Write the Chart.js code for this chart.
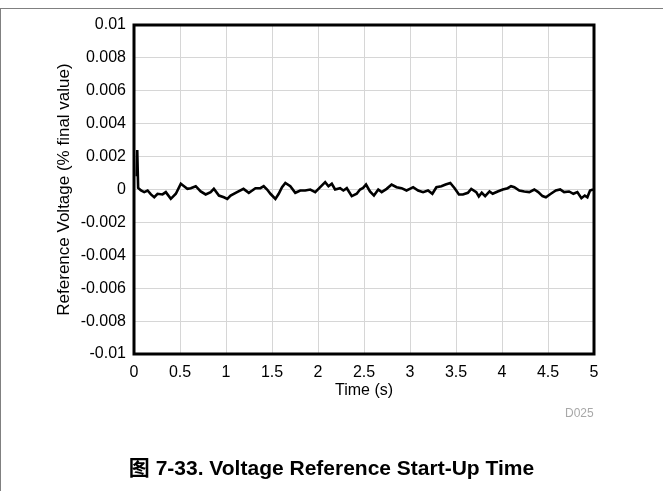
<!DOCTYPE html>
<html>
<head>
<meta charset="utf-8">
<script src="https://cdn.jsdelivr.net/npm/chart.js@4"></script>
<style>
    html, body { margin: 0; padding: 0; background: #fff; }
    #wrap { position: relative; width: 663px; height: 491px; overflow: hidden; }
    #frame { position: absolute; left: 0; top: 8px; width: 663px; height: 483px;
             border-top: 1px solid #808080; border-left: 1px solid #808080; box-sizing: border-box; }
    #chartBox { position: absolute; left: 0; top: 0; width: 663px; height: 491px; }
    #code { position: absolute; left: 565px; top: 406px; font: 12px "Liberation Sans", Arial, sans-serif; color: #a8a8a8; }
    #caption { position: absolute; left: 0; top: 451px; width: 663px; text-align: center;
               font: bold 21px "Liberation Sans", Arial, "Noto Sans CJK SC", sans-serif; color: #000; }
</style>
</head>
<body>
<div id="wrap">
    <div id="frame"></div>
    <div id="chartBox"><canvas id="graficoStartUp"></canvas></div>
    <div id="code">D025</div>
    <div id="caption">图 7-33. Voltage Reference Start-Up Time</div>
</div>
<script>
// valores
const timeS = [
    0.03, 0.035, 0.045, 0.076, 0.111, 0.148, 0.184, 0.22, 0.256, 0.31,
    0.346, 0.40, 0.455, 0.509, 0.544, 0.58, 0.617, 0.671, 0.725, 0.779,
    0.833, 0.868, 0.923, 0.977, 1.014, 1.05, 1.12, 1.19, 1.248, 1.285,
    1.32, 1.374, 1.41, 1.447, 1.483, 1.537, 1.573, 1.609, 1.645, 1.699,
    1.753, 1.807, 1.861, 1.916, 1.97, 2.024, 2.078, 2.114, 2.15, 2.186,
    2.24, 2.276, 2.313, 2.367, 2.421, 2.457, 2.49, 2.522, 2.565, 2.608,
    2.655, 2.692, 2.746, 2.8, 2.854, 2.908, 2.962, 2.998, 3.034, 3.088,
    3.142, 3.196, 3.243, 3.287, 3.341, 3.387, 3.438, 3.485, 3.532, 3.575,
    3.629, 3.666, 3.72, 3.748, 3.78, 3.817, 3.864, 3.899, 3.953, 4.008,
    4.062, 4.098, 4.134, 4.188, 4.242, 4.297, 4.351, 4.394, 4.44, 4.477,
    4.531, 4.585, 4.632, 4.675, 4.729, 4.776, 4.819, 4.863, 4.9, 4.928,
    4.957, 4.99
];
const refVoltage = [
    0.0008, 0.0024, 0.0001, -0.00006, -0.00016, -0.00006, -0.0003, -0.00047, -0.00026, -0.0003,
    -0.00016, -0.00057, -0.00026, 0.00035, 0.0002, 0.00004, 0.00008, 0.0002, -0.00012, -0.0003,
    -0.00016, 0.00004, -0.00037, -0.00047, -0.00057, -0.00037, -0.00016, 0.00004, -0.0002, -0.00006,
    0.00008, 0.00008, 0.0002, 0, -0.00026, -0.00057, -0.00026, 0.00014, 0.0004, 0.0002,
    -0.0002, -0.00006, -0.00006, 0, -0.00016, 0.00014, 0.00045, 0.0002, 0.00035, 0,
    0.00008, -0.00006, 0.00008, -0.0004, -0.00026, 0, 0.0001, 0.0003, -0.00012, -0.00037,
    0, -0.00016, 0.00004, 0.0003, 0.00014, 0.00008, -0.00006, 0.00004, 0.00014, -0.00006,
    -0.00016, -0.00006, -0.00026, 0.00014, 0.0002, 0.0003, 0.0004, 0.00008, -0.0003, -0.0003,
    -0.0002, 0.00004, -0.00016, -0.00042, -0.0002, -0.0004, -0.00012, -0.00026, -0.00012, 0,
    0.00008, 0.0002, 0.00014, -0.00006, -0.00012, -0.00016, 0, -0.00016, -0.0004, -0.00047,
    -0.00026, -0.00006, 0, -0.00016, -0.00012, -0.00026, -0.00016, -0.00053, -0.00037, -0.00047,
    -0.00006, 0
];
const xTickLabels = ["0", "0.5", "1", "1.5", "2", "2.5", "3", "3.5", "4", "4.5", "5"];
const yTickLabels = ["-0.01", "-0.008", "-0.006", "-0.004", "-0.002", "0", "0.002", "0.004", "0.006", "0.008", "0.01"];

const fonteEixo = { family: "'Liberation Sans', Arial, sans-serif", size: 16 };

// moldura preta em volta da área do gráfico
const molduraPlot = {
    id: "molduraPlot",
    afterDraw(chart) {
        const a = chart.chartArea;
        const ctx = chart.ctx;
        ctx.save();
        ctx.strokeStyle = "#000";
        ctx.lineWidth = 3;
        ctx.strokeRect(a.left, a.top, a.right - a.left, a.bottom - a.top);
        ctx.restore();
    }
};

const ctx = document.getElementById("graficoStartUp").getContext("2d");
new Chart(ctx, {
    type: "line",
    data: {
        datasets: [{
            data: timeS.map((t, i) => ({ x: t, y: refVoltage[i] })),
            borderColor: "#000",
            borderWidth: 2.6,
            pointRadius: 0,
            tension: 0,
            fill: false
        }]
    },
    options: {
        responsive: true,
        maintainAspectRatio: false,
        animation: false,
        layout: { padding: { left: 54, top: 25, right: 69, bottom: 87 } },
        plugins: {
            legend: { display: false },
            tooltip: { enabled: false }
        },
        scales: {
            x: {
                type: "linear",
                min: 0,
                max: 5,
                afterFit: s => { s.height = 50; },
                afterBuildTicks: s => { s.ticks = xTickLabels.map(v => ({ value: Number(v) })); },
                grid: { color: "#d6d6d6", lineWidth: 1, drawTicks: false },
                border: { display: false },
                ticks: {
                    color: "#000",
                    font: fonteEixo,
                    padding: 9,
                    maxRotation: 0,
                    callback: (v, i) => xTickLabels[i]
                },
                title: { display: true, text: "Time (s)", color: "#000", font: fonteEixo, padding: { top: 0, bottom: 4 } }
            },
            y: {
                min: -0.01,
                max: 0.01,
                afterFit: s => { s.width = 80; },
                afterBuildTicks: s => { s.ticks = yTickLabels.map(v => ({ value: Number(v) })); },
                grid: { color: "#d6d6d6", lineWidth: 1, drawTicks: false },
                border: { display: false },
                ticks: {
                    color: "#000",
                    font: fonteEixo,
                    padding: 8,
                    callback: (v, i) => yTickLabels[i]
                },
                title: { display: true, text: "Reference Voltage (% final value)", color: "#000",
                         font: { family: fonteEixo.family, size: 17 }, padding: { top: 0, bottom: 0 } }
            }
        }
    },
    plugins: [molduraPlot]
});
</script>
</body>
</html>
